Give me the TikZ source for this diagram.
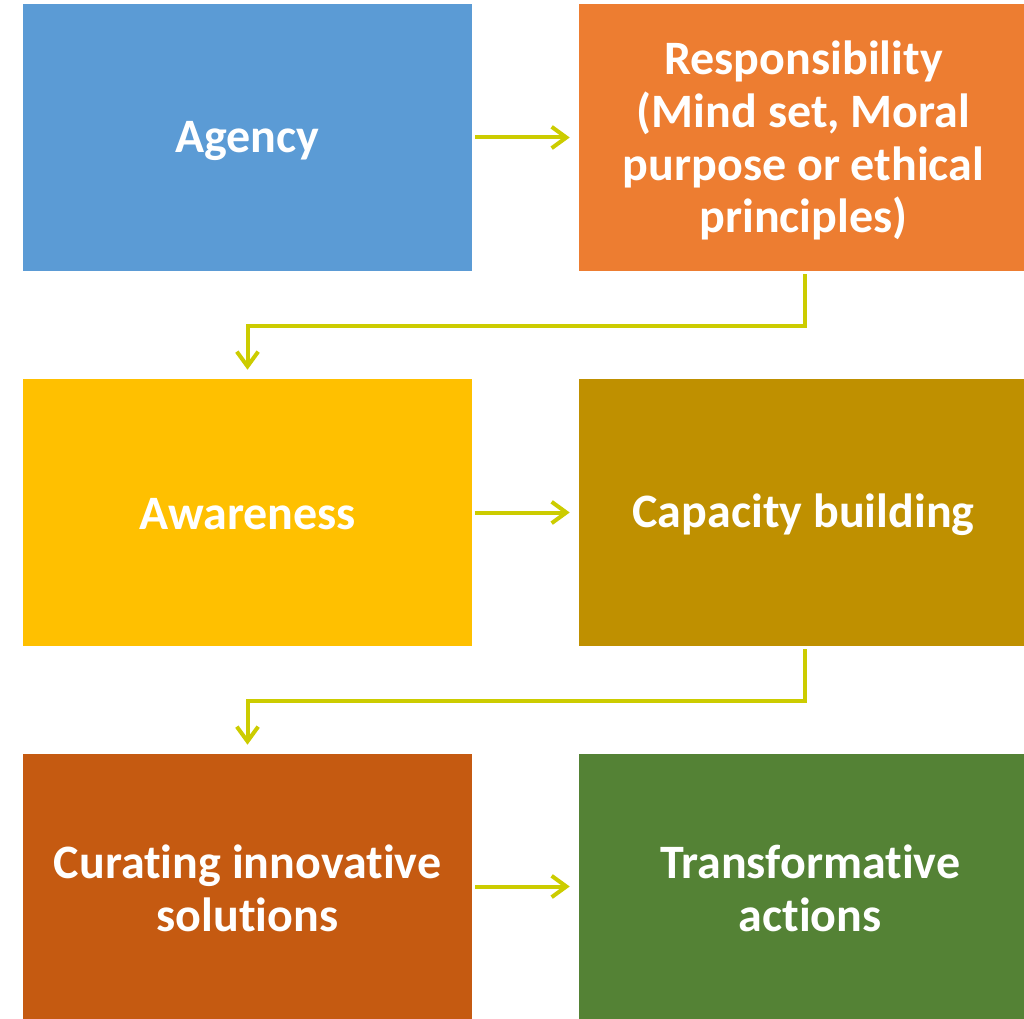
\documentclass[tikz,border=0pt]{standalone}
\usepackage{fontspec}
\setmainfont{Carlito}[Ligatures=NoCommon]
\usetikzlibrary{arrows.meta}
\definecolor{cblue}{HTML}{5B9BD5}
\definecolor{corange}{HTML}{ED7D31}
\definecolor{cyellow}{HTML}{FFC000}
\definecolor{cgold}{HTML}{BF9000}
\definecolor{cbrown}{HTML}{C55A11}
\definecolor{cgreen}{HTML}{548235}
\definecolor{carrow}{HTML}{CCCC00}
\tikzset{
  box/.style={rectangle, inner sep=0pt},
  lbox/.style={box, minimum width=336.75pt},
  rbox/.style={box, minimum width=333.75pt},
  txt/.style={inner sep=0pt, text=white, align=center,
    font=\fontsize{36}{39.5}\selectfont\bfseries},
  arr/.style={draw=carrow, line width=3pt,
    -{Straight Barb[length=11pt,width=16pt,line width=3pt]},
    shorten <=2.25pt, shorten >=6.75pt},
}
\begin{document}
\begin{tikzpicture}[x=0.75pt,y=-0.75pt]
\useasboundingbox (0,0) rectangle (1024,1019);
\node[lbox, fill=cblue, minimum height=200.25pt] (agency) at (247.5,137.5) {};
\node[rbox, fill=corange, minimum height=200.25pt] (resp) at (801.5,137.5) {};
\node[lbox, fill=cyellow, minimum height=200.25pt] (aware) at (247.5,512.5) {};
\node[rbox, fill=cgold, minimum height=200.25pt] (cap) at (801.5,512.5) {};
\node[lbox, fill=cbrown, minimum height=198.75pt] (cur) at (247.5,886.5) {};
\node[rbox, fill=cgreen, minimum height=198.75pt] (trans) at (801.5,886.5) {};
\node[txt] (agencyT) at ([yshift=-3pt]agency.center) {Agency};
\node[txt] (respT) at ([xshift=1.5pt,yshift=-2.5pt]resp.center) {Responsibility\\(Mind set, Moral\\purpose or ethical\\principles)};
\node[txt] (awareT) at ([yshift=-1.5pt]aware.center) {Awareness};
\node[txt] (capT) at ([xshift=1.5pt,yshift=-1.5pt]cap.center) {Capacity building};
\node[txt] (curT) at ([yshift=-1.5pt]cur.center) {Curating innovative\\solutions};
\node[txt] (transT) at ([xshift=6.5pt,yshift=-1.5pt]trans.center) {Transformative\\actions};
\draw[arr] (agency) -- (resp);
\draw[arr] (aware) -- (cap);
\draw[arr] (cur) -- (trans);
\coordinate (r1) at (805,326);
\coordinate (r2) at (805,701);
\draw[arr] (resp.south -| r1) -- (r1) -| (aware.north);
\draw[arr] (cap.south -| r2) -- (r2) -| (aware.north |- cur.north);
\end{tikzpicture}
\end{document}
